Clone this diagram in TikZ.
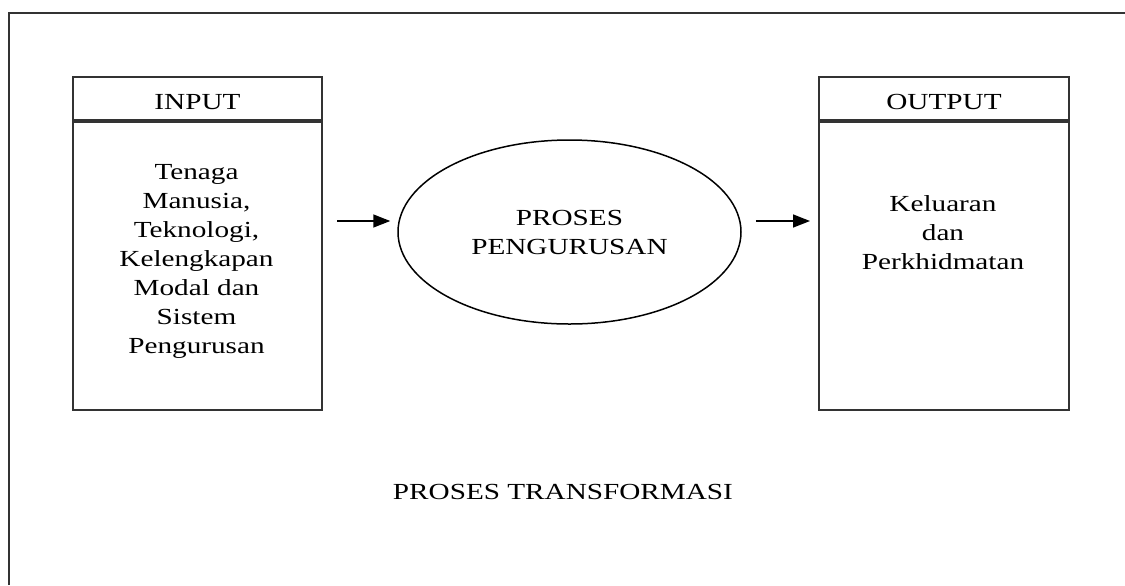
\documentclass[tikz,border=0pt]{standalone}
\usepackage{fontspec}
\setmainfont[FakeStretch=1.27]{Liberation Serif}
\usetikzlibrary{positioning,shapes.geometric,arrows.meta}

\begin{document}
\begin{tikzpicture}[x=0.5pt,y=-0.5pt,
    font=\fontsize{11.5}{14.5}\selectfont,
    box/.style={draw=black!80, line width=1pt, inner sep=0pt},
    headbox/.style={box, minimum height=21.5pt, text height=11.4pt, text depth=0pt, anchor=north west},
    flow/.style={-{Triangle[length=8.5pt,width=6.5pt]}, line width=0.75pt}]
    \useasboundingbox (0,0) rectangle (1125,585);
    \draw[black!80, line width=1pt] (9,585) -- (9,13) -- (1125,13);

    % input side
    \node[headbox, minimum width=124.5pt] (inhead) at (72,76) {INPUT};
    \node[box, minimum width=124.5pt, minimum height=144pt, anchor=north] (inbody) at (inhead.south) {};
    \node[align=center] (intext) at (196.5,261.5)
    {Tenaga\\Manusia,\\Teknologi,\\Kelengkapan\\Modal dan\\Sistem\\Pengurusan};

    % process
    \node[ellipse, draw, line width=0.75pt, inner sep=0pt, align=center,
        minimum width=171.5pt, minimum height=92pt] (proses) at (569.5,232) {PROSES\\PENGURUSAN};

    % output side
    \node[headbox, minimum width=125pt] (outhead) at (818,76) {OUTPUT};
    \node[box, minimum width=125pt, minimum height=144pt, anchor=north] (outbody) at (outhead.south) {};
    \node[align=center] (outtext) at (943,233) {Keluaran\\dan\\Perkhidmatan};

    \coordinate (lvl) at (0,221);
    \draw[flow, shorten <=7pt, shorten >=3.5pt] (inbody.east |- lvl) -- (proses.west |- lvl);
    \draw[flow, shorten <=7pt, shorten >=4pt] (proses.east |- lvl) -- (outbody.west |- lvl);

    \node (title) at (563,492) {PROSES TRANSFORMASI};
\end{tikzpicture}
\end{document}
